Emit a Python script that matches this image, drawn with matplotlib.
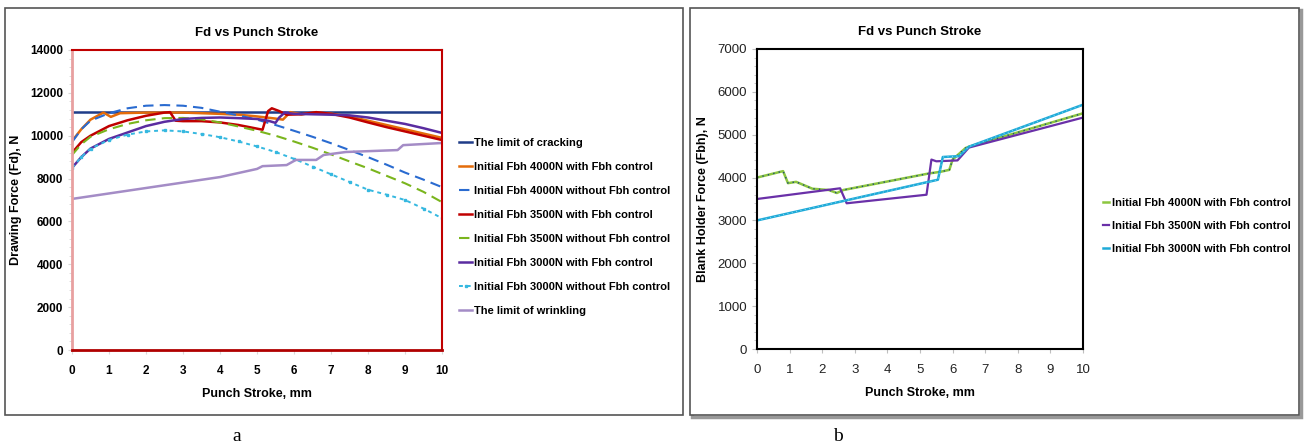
import matplotlib.pyplot as plt
from matplotlib.patches import Rectangle

plt.rcParams['font.family'] = ['Liberation Sans Narrow', 'Liberation Sans', 'DejaVu Sans']

# --- chart a: drawing force vs punch stroke ---
x_crack = [0, 10]
crack = [11100, 11100]

x_o4000 = [0, 0.25, 0.5, 0.85, 1.05, 1.3, 2, 3, 4, 4.5, 5, 5.5, 5.7, 5.9, 6.2, 6.6, 7, 7.5, 8, 8.5, 9, 9.5, 10]
o4000 = [9750, 10300, 10750, 11080, 10880, 11050, 11080, 11080, 11020, 10980, 10900, 10800, 10750, 11100, 11000,
         11080, 11030, 10900, 10700, 10500, 10300, 10100, 9900]

x_std = [0, 0.25, 0.5, 1, 1.5, 2, 2.5, 3, 3.5, 4, 4.5, 5, 5.5, 6, 6.5, 7, 7.5, 8, 8.5, 9, 9.5, 10]
b4000 = [9700, 10300, 10700, 11050, 11280, 11400, 11430, 11400, 11300, 11120, 10950, 10750, 10500, 10230, 9950,
         9650, 9330, 9000, 8650, 8280, 7950, 7600]
g3500 = [9100, 9600, 9950, 10300, 10550, 10720, 10820, 10830, 10760, 10620, 10430, 10230, 10000, 9730, 9440,
         9130, 8800, 8480, 8130, 7780, 7380, 6900]
c3000 = [8500, 9000, 9400, 9800, 10050, 10200, 10250, 10200, 10080, 9930, 9730, 9500, 9240, 8920, 8560,
         8200, 7840, 7480, 7250, 7000, 6600, 6150]

x_r3500 = [0, 0.25, 0.5, 1, 1.5, 2, 2.5, 2.65, 2.8, 3, 3.5, 4, 4.5, 5, 5.15, 5.3, 5.4, 5.6, 5.8, 6.2, 6.6, 7, 7.5,
           8, 8.5, 9, 9.5, 10]
r3500 = [9200, 9700, 10000, 10450, 10720, 10930, 11080, 11100, 10700, 10680, 10680, 10620, 10500, 10330, 10280,
         11150, 11280, 11150, 10980, 11000, 11100, 11020, 10850, 10620, 10400, 10200, 10000, 9800]

x_p3000 = [0, 0.25, 0.5, 1, 1.5, 2, 2.5, 3, 3.5, 4, 4.5, 5, 5.3, 5.5, 5.6, 5.75, 6, 6.5, 7, 7.5, 8, 8.5, 9, 9.5, 10]
p3000 = [8500, 9000, 9400, 9850, 10150, 10450, 10650, 10780, 10830, 10850, 10820, 10780, 10700, 10600, 10850,
         11080, 11020, 11000, 10980, 10950, 10850, 10700, 10550, 10350, 10130]

x_wrinkle = [0, 4.0, 5.0, 5.15, 5.8, 6.05, 6.6, 6.8, 7.4, 8.8, 8.95, 10]
wrinkle = [7050, 8070, 8450, 8580, 8630, 8870, 8870, 9100, 9240, 9330, 9560, 9660]

# --- chart b: blank holder force vs punch stroke ---
x_bg = [0, 0.8, 0.95, 1.2, 1.7, 2.2, 2.45, 2.65, 5.3, 5.6, 5.9, 6.0, 6.4, 6.5, 10]
bh4000 = [4000, 4150, 3870, 3900, 3740, 3710, 3640, 3710, 4100, 4130, 4180, 4420, 4690, 4720, 5500]
x_bp = [0, 2.55, 2.75, 5.2, 5.35, 5.5, 6.15, 6.5, 10]
bh3500 = [3500, 3750, 3400, 3600, 4420, 4380, 4400, 4700, 5400]
x_bc = [0, 5.55, 5.7, 6.2, 6.5, 10]
bh3000 = [3000, 3950, 4480, 4500, 4720, 5700]

W, H = 1304, 448
fig = plt.figure(figsize=(W / 100, H / 100), dpi=100)

# outer frames, kept behind the axes
fig.patches.append(Rectangle((5 / W, 33 / H), 678 / W, 407 / H, transform=fig.transFigure,
                             fill=False, ec='#555555', lw=1.2, zorder=-2))
fig.patches.append(Rectangle((692 / W, 31 / H), 609 / W, 407 / H, transform=fig.transFigure,
                             fill=False, ec='#999999', lw=2.5, zorder=-2))
fig.patches.append(Rectangle((690 / W, 33 / H), 609 / W, 407 / H, transform=fig.transFigure,
                             fill=True, fc='white', ec='#555555', lw=1.2, zorder=-1))

bold = dict(fontweight='bold')

# chart a
ax = fig.add_axes([72 / W, 98 / H, 370 / W, 300 / H])
ax.plot(x_crack, crack, color='#1f3c88', lw=1.8, label='The limit of cracking')
ax.plot(x_o4000, o4000, color='#e46c0a', lw=1.8, label='Initial Fbh 4000N with Fbh control')
ax.plot(x_std, b4000, color='#2a6bd0', lw=1.5, ls=(0, (5, 3)), label='Initial Fbh 4000N without Fbh control')
ax.plot(x_r3500, r3500, color='#c00000', lw=1.8, label='Initial Fbh 3500N with Fbh control')
ax.plot(x_std, g3500, color='#7ab51d', lw=1.5, ls=(0, (5, 3)), label='Initial Fbh 3500N without Fbh control')
ax.plot(x_p3000, p3000, color='#5a2ca0', lw=1.8, label='Initial Fbh 3000N with Fbh control')
ax.plot(x_std, c3000, color='#35b8e0', lw=1.4, ls=(0, (2, 2)), marker='s', ms=1.8,
        label='Initial Fbh 3000N without Fbh control')
ax.plot(x_wrinkle, wrinkle, color='#a48cc6', lw=1.8, label='The limit of wrinkling')
ax.set_xlim(0, 10)
ax.set_ylim(0, 14000)
ax.set_xticks(range(0, 11))
ax.set_yticks(range(0, 14001, 2000))
ax.set_yticks(range(0, 14001, 400), minor=True)
for s in ['top', 'right']:
    ax.spines[s].set_color('#c00000')
    ax.spines[s].set_linewidth(1.5)
ax.spines['bottom'].set_color('#b00000')
ax.spines['bottom'].set_linewidth(2)
ax.spines['left'].set_color('#e8a0a0')
ax.spines['left'].set_linewidth(2)
ax.tick_params(axis='both', which='both', direction='out', colors='#d9d9d9', labelcolor='black', labelsize=8.5)
ax.tick_params(axis='y', which='major', length=3)
ax.tick_params(axis='x', which='major', length=3, pad=8)
for lbl in ax.get_xticklabels() + ax.get_yticklabels():
    lbl.set_fontweight('bold')
ax.set_title('Fd vs Punch Stroke', fontsize=9.5, pad=10, **bold)
ax.set_xlabel('Punch Stroke, mm', fontsize=9, labelpad=8, **bold)
ax.set_ylabel('Drawing Force (Fd), N', fontsize=9, labelpad=6, **bold)
ax.legend(loc='center left', bbox_to_anchor=(1.02, 0.41), frameon=False, handlelength=1.1,
          handletextpad=0.2, labelspacing=1.25, prop={'size': 8, 'weight': 'bold'})

# chart b
bx = fig.add_axes([757 / W, 99 / H, 326 / W, 300 / H])
bx.plot(x_bg, bh4000, color='#8cc63f', lw=1.8, label='Initial Fbh 4000N with Fbh control')
bx.plot(x_bg, bh4000, color='#1f4e79', lw=1.0, ls=(0, (1, 3)))
bx.plot(x_bp, bh3500, color='#6a30a8', lw=1.6, label='Initial Fbh 3500N with Fbh control')
bx.plot(x_bc, bh3000, color='#1eaad8', lw=1.8, label='Initial Fbh 3000N with Fbh control')
bx.plot(x_bc, bh3000, color='#7fd3ee', lw=0.8, ls=(0, (1, 3)))
bx.set_xlim(0, 10)
bx.set_ylim(0, 7000)
bx.set_xticks(range(0, 11))
bx.set_yticks(range(0, 7001, 1000))
bx.set_yticks(range(0, 7001, 200), minor=True)
for s in bx.spines.values():
    s.set_color('black')
    s.set_linewidth(1.5)
bx.tick_params(axis='both', which='both', direction='out', colors='#bfbfbf', labelcolor='#222222', labelsize=9.5)
bx.tick_params(axis='x', which='major', length=3, pad=8)
bx.set_title('Fd vs Punch Stroke', fontsize=9.5, pad=10, **bold)
bx.set_xlabel('Punch Stroke, mm', fontsize=9, labelpad=8, **bold)
bx.set_ylabel('Blank Holder Force (Fbh), N', fontsize=9, labelpad=6, **bold)
bx.legend(loc='center left', bbox_to_anchor=(1.03, 0.41), frameon=False, handlelength=0.6,
          handletextpad=0.2, labelspacing=1.2, prop={'size': 8, 'weight': 'bold'})

fig.text(237 / W, 12 / H, 'a', family=['Liberation Serif', 'DejaVu Serif'], fontsize=14, ha='center', va='center')
fig.text(838 / W, 12 / H, 'b', family=['Liberation Serif', 'DejaVu Serif'], fontsize=14, ha='center', va='center')

fig.savefig('out.png', dpi=100)
